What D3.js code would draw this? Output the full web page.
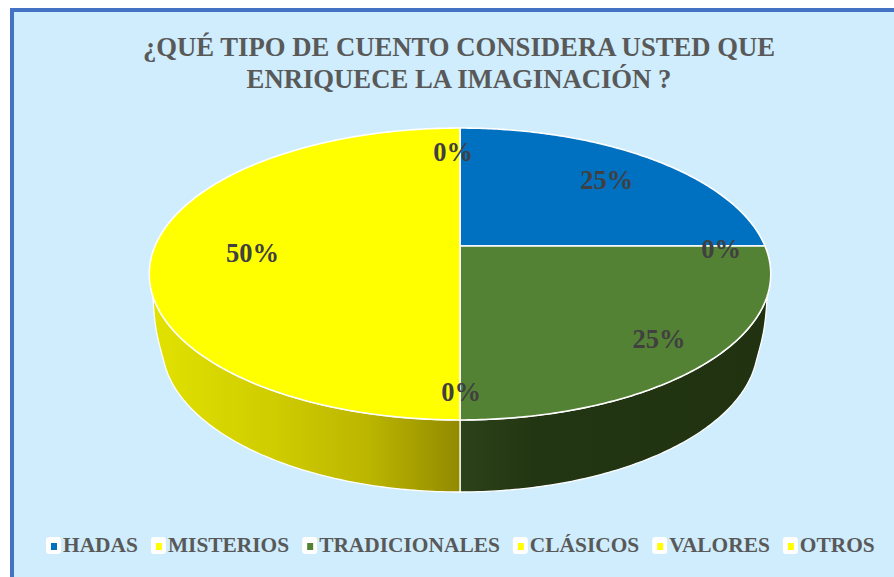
<!DOCTYPE html>
<html><head><meta charset="utf-8">
<script src="https://cdnjs.cloudflare.com/ajax/libs/d3/7.8.5/d3.min.js"></script>
<style>html,body{margin:0;padding:0;background:#fff;overflow:hidden}svg{display:block}text{font-family:"Liberation Serif",serif;font-weight:bold}</style>
</head><body><svg id="c" width="894" height="577"></svg>
<script>
const titleLines = ["¿QUÉ TIPO DE CUENTO CONSIDERA USTED QUE", "ENRIQUECE LA IMAGINACIÓN ?"];
const categories = ["HADAS", "MISTERIOS", "TRADICIONALES", "CLÁSICOS", "VALORES", "OTROS"];
const values = [25, 0, 25, 0, 50, 0];
const colors = ["#0070c0", "#ffff00", "#548235", "#ffff00", "#ffff00", "#ffff00"];

// label placement: radial fraction along the slice's mid angle, plus nudge
const labelRadius = [0.75, 0.856, 0.82, 0.86, 0.68, 0.77];
const labelNudge = [[0, 2], [0, 3], [0, 1], [1, 1], [0, 7], [-7, 0]];

// perspective disc geometry
const cx = 460, cy = 246, a = 305, b = 140.6, p = 0.1918;
const project = (r, th) => {
  const u = r * Math.sin(th), v = r * Math.cos(th), w = 1 + p * v;
  return [cx + a * u / w, cy - b * v / w];
};
// lower rim: an ellipse, joined to the top rim by a bezier shoulder
const rimA = 298, rimB = 147, rimCy = 345;
const silhouette = 109.5 * Math.PI / 180, shoulderShare = 0.16, rimT0 = 1.434;
const rimPoint = t => [rimA * Math.sin(t), rimCy + rimB * Math.cos(t)];

const svg = d3.select("#c");
svg.append("rect").attr("x", 12).attr("y", 10).attr("width", 1200).attr("height", 1200)
  .attr("fill", "#cfedfc").attr("stroke", "#4472c4").attr("stroke-width", 4);

const defs = svg.append("defs");
const grad = (id, stops) => {
  const g = defs.append("linearGradient").attr("id", id).attr("gradientUnits", "userSpaceOnUse")
    .attr("x1", 150).attr("x2", 770).attr("y1", 0).attr("y2", 0);
  stops.forEach(s => g.append("stop").attr("offset", s[0]).attr("stop-color", s[1]));
};
grad("sideYellow", [[0, "#e2e200"], [0.2, "#cfcc00"], [0.35, "#bcb600"], [0.5, "#928a00"], [1, "#928a00"]]);
grad("sideGreen", [[0, "#2c4219"], [0.5, "#2c4219"], [0.62, "#233613"], [1, "#203210"]]);

const pie = d3.pie().sort(null).value(d => d)(values);
const line = d3.line();
const arcSamples = (a0, a1) => {
  const n = Math.max(1, Math.ceil(Math.abs(a1 - a0) * 90));
  return d3.range(n + 1).map(i => a0 + (a1 - a0) * i / n);
};

const shoulderEnd = rimPoint(rimT0), shoulderNext = rimPoint(rimT0 + 0.01);
const tangent = [(shoulderNext[0] - shoulderEnd[0]) * 20, (shoulderNext[1] - shoulderEnd[1]) * 20];
// lower edge point for a top-rim angle on the visible front
const lower = th => {
  const sgn = th <= Math.PI ? 1 : -1;
  const s = th <= Math.PI ? (th - silhouette) / (Math.PI - silhouette)
                          : (2 * Math.PI - silhouette - th) / (Math.PI - silhouette);
  if (s < shoulderShare) {
    const t = s / shoulderShare, m = 1 - t;
    const st = project(1, silhouette), sx = st[0] - cx, sy = st[1];
    const c1 = [sx - 2, sy + 34], c2 = [shoulderEnd[0] + tangent[0], shoulderEnd[1] + tangent[1]];
    const bz = k => m * m * m * [sx, sy][k] + 3 * m * m * t * c1[k] + 3 * m * t * t * c2[k] + t * t * t * shoulderEnd[k];
    return [cx + sgn * bz(0), bz(1)];
  }
  const q = rimPoint(rimT0 * (1 - (s - shoulderShare) / (1 - shoulderShare)));
  return [cx + sgn * q[0], q[1]];
};

const visibleFrom = silhouette, visibleTo = 2 * Math.PI - silhouette;
const sideFill = i => colors[i] === "#ffff00" ? "url(#sideYellow)" : "url(#sideGreen)";

const g = svg.append("g");
pie.forEach((d, i) => {
  if (d.endAngle - d.startAngle <= 0) return;
  const a0 = Math.max(d.startAngle, visibleFrom), a1 = Math.min(d.endAngle, visibleTo);
  if (a1 <= a0) return;
  const ths = arcSamples(a0, a1);
  const pts = ths.map(t => project(1, t)).concat(ths.slice().reverse().map(lower));
  g.append("path").attr("d", line(pts) + "Z").attr("fill", sideFill(i))
    .attr("stroke", "#fff").attr("stroke-width", 1.3).attr("stroke-linejoin", "round");
});
pie.forEach((d, i) => {
  if (d.endAngle - d.startAngle <= 0) return;
  const pts = [[cx, cy]].concat(arcSamples(d.startAngle, d.endAngle).map(t => project(1, t)));
  g.append("path").attr("d", line(pts) + "Z").attr("fill", colors[i])
    .attr("stroke", "#fff").attr("stroke-width", 1.6).attr("stroke-linejoin", "round");
});

const fmt = d3.format(".0%"), total = d3.sum(values);
pie.forEach((d, i) => {
  const m = (d.startAngle + d.endAngle) / 2, pos = project(labelRadius[i], m);
  svg.append("text").attr("x", pos[0] + labelNudge[i][0]).attr("y", pos[1] + labelNudge[i][1] + 9)
    .attr("text-anchor", "middle").attr("font-size", 26.5).attr("fill", "#404040")
    .text(fmt(d.value / total));
});

titleLines.forEach((t, i) => {
  svg.append("text").attr("x", 459).attr("y", 56 + i * 32).attr("text-anchor", "middle")
    .attr("font-size", 26.7).attr("fill", "#595959").text(t);
});

let lx = 46;
categories.forEach((c, i) => {
  const e = svg.append("g");
  e.append("rect").attr("x", lx).attr("y", 537).attr("width", 15).attr("height", 17).attr("rx", 3).attr("fill", "#fff");
  e.append("rect").attr("x", lx + 5).attr("y", 543).attr("width", 6).attr("height", 7).attr("fill", colors[i]);
  const t = e.append("text").attr("x", lx + 17).attr("y", 552).attr("font-size", 21.4).attr("fill", "#595959").text(c);
  lx += 17 + t.node().getComputedTextLength() + 13;
});
</script></body></html>
